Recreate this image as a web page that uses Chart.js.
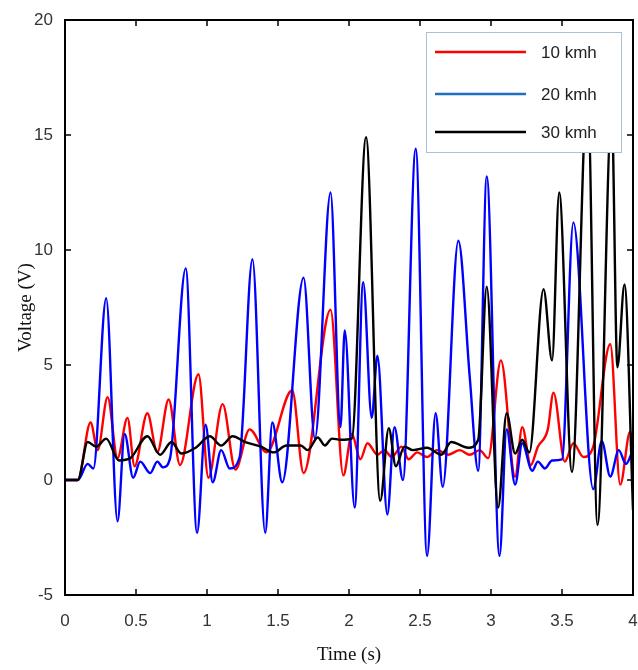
<!DOCTYPE html>
<html>
<head>
<meta charset="utf-8">
<title>Voltage vs time</title>
<style>
  body { margin: 0; background: #fff; }
  canvas { display: block; }
</style>
</head>
<body>
<canvas id="chart" width="638" height="670"></canvas>
<script src="https://cdn.jsdelivr.net/npm/chart.js"></script>
<script>
  // series labels
  const labels = ['10 kmh', '20 kmh', '30 kmh'];

  // 10 kmh (red)
  const time10 = [0, 0.09, 0.18, 0.23, 0.30, 0.37, 0.44, 0.49, 0.58, 0.65, 0.73, 0.81, 0.94, 1.01, 1.11, 1.20, 1.30, 1.42,
    1.60, 1.68, 1.87, 1.96, 2.02, 2.08, 2.13, 2.20, 2.25, 2.30, 2.37, 2.42, 2.48, 2.55, 2.62, 2.70, 2.78, 2.85, 2.92, 2.98,
    3.07, 3.17, 3.22, 3.28, 3.33, 3.40, 3.44, 3.52, 3.58, 3.65, 3.72, 3.84, 3.91, 3.98, 4.0];
  const volt10 = [0, 0, 2.5, 1.3, 3.6, 0.95, 2.7, 0.6, 2.9, 1.2, 3.5, 0.65, 4.6, 0.1, 3.3, 0.45, 2.2, 1.2,
    3.9, 0.3, 7.4, 0.2, 2.0, 0.9, 1.6, 1.1, 1.3, 1.0, 1.45, 0.9, 1.2, 1.0, 1.3, 1.1, 1.3, 1.1, 1.3, 0.95,
    5.2, 0.15, 2.3, 0.65, 1.45, 2.2, 3.8, 0.8, 1.6, 1.0, 1.45, 5.9, -0.2, 2.1, 1.6];

  // 20 kmh (blue)
  const time20 = [0, 0.09, 0.16, 0.20, 0.29, 0.37, 0.42, 0.48, 0.53, 0.60, 0.65, 0.69, 0.74, 0.85, 0.93, 0.99, 1.04, 1.10,
    1.16, 1.23, 1.32, 1.41, 1.46, 1.53, 1.68, 1.76, 1.87, 1.94, 1.97, 2.04, 2.10, 2.16, 2.20, 2.27, 2.32, 2.38, 2.47, 2.55,
    2.61, 2.66, 2.77, 2.85, 2.91, 2.97, 3.06, 3.11, 3.17, 3.22, 3.29, 3.33, 3.38, 3.43, 3.50, 3.58, 3.72, 3.78, 3.84, 3.90,
    3.95, 4.0];
  const volt20 = [0, 0, 0.7, 0.5, 7.9, -1.8, 2.0, 0.1, 0.8, 0.3, 0.8, 0.55, 0.95, 9.2, -2.3, 2.4, -0.1, 1.3,
    0.5, 1.0, 9.6, -2.3, 2.5, -0.1, 8.8, 1.8, 12.5, 2.3, 6.5, -1.2, 8.6, 2.7, 5.4, -1.5, 2.3, 0.0, 14.4, -3.3,
    2.9, -0.3, 10.4, 4.5, 0.4, 13.2, -3.3, 2.2, -0.2, 1.6, 0.4, 0.8, 0.5, 0.85, 0.9, 11.2, -0.4, 1.7, 0.15, 1.3,
    0.7, 1.3];

  // 30 kmh (black)
  const time30 = [0, 0.09, 0.16, 0.22, 0.29, 0.38, 0.46, 0.58, 0.67, 0.75, 0.82, 0.92, 1.02, 1.10, 1.18, 1.27, 1.38, 1.47,
    1.56, 1.66, 1.71, 1.78, 1.83, 1.88, 1.94, 2.02, 2.12, 2.22, 2.28, 2.33, 2.39, 2.45, 2.55, 2.65, 2.72, 2.84, 2.91, 2.97,
    3.05, 3.11, 3.17, 3.22, 3.27, 3.37, 3.43, 3.48, 3.57, 3.68, 3.75, 3.85, 3.89, 3.94, 4.0];
  const volt30 = [0, 0, 1.65, 1.45, 1.8, 0.85, 0.95, 1.9, 1.1, 1.65, 1.15, 1.4, 1.9, 1.5, 1.9, 1.65, 1.45, 1.2,
    1.5, 1.5, 1.3, 1.85, 1.5, 1.8, 1.75, 1.8, 14.9, -0.9, 2.25, 0.6, 1.45, 1.3, 1.4, 1.1, 1.65, 1.4, 1.75, 8.4,
    -1.2, 2.9, 1.15, 1.75, 1.2, 8.3, 5.2, 12.5, 0.35, 17.0, -1.95, 16.0, 4.9, 8.5, -1.3];

  const lineColors = ['#ff0000', '#0000ff', '#000000'];
  const legendColors = ['#ff0000', '#1f6fc0', '#000000'];

  function toPoints(times, values) {
    return times.map((t, i) => ({ x: t, y: values[i] }));
  }

  // box frame, inward tick marks and the legend box
  const framePlugin = {
    id: 'frame',
    afterDraw(chart) {
      const ctx = chart.ctx;
      const a = chart.chartArea;
      const xs = chart.scales.x;
      const ys = chart.scales.y;
      ctx.save();
      ctx.strokeStyle = '#000';
      ctx.lineWidth = 1.5;
      xs.ticks.forEach(t => {
        const px = xs.getPixelForValue(t.value);
        ctx.beginPath();
        ctx.moveTo(px, a.bottom); ctx.lineTo(px, a.bottom - 6);
        ctx.moveTo(px, a.top); ctx.lineTo(px, a.top + 6);
        ctx.stroke();
      });
      ys.ticks.forEach(t => {
        const py = ys.getPixelForValue(t.value);
        ctx.beginPath();
        ctx.moveTo(a.left, py); ctx.lineTo(a.left + 6, py);
        ctx.moveTo(a.right, py); ctx.lineTo(a.right - 6, py);
        ctx.stroke();
      });
      ctx.lineWidth = 2;
      ctx.strokeRect(a.left, a.top, a.right - a.left, a.bottom - a.top);

      // legend
      const bw = 195, bh = 120;
      const bx = a.right - 12 - bw, by = a.top + 12;
      ctx.fillStyle = '#fff';
      ctx.fillRect(bx, by, bw, bh);
      ctx.strokeStyle = '#a9c0d6';
      ctx.lineWidth = 1;
      ctx.strokeRect(bx + 0.5, by + 0.5, bw, bh);
      ctx.font = '17px "Liberation Sans", Arial, sans-serif';
      ctx.textBaseline = 'middle';
      const rowY = [20, 62, 100];
      labels.forEach((lab, i) => {
        const y = by + rowY[i];
        ctx.strokeStyle = legendColors[i];
        ctx.lineWidth = 2.5;
        ctx.beginPath();
        ctx.moveTo(bx + 9, y); ctx.lineTo(bx + 100, y);
        ctx.stroke();
        ctx.fillStyle = '#222';
        ctx.fillText(lab, bx + 115, y + 1);
      });
      ctx.restore();
    }
  };

  const datasets = [
    { label: labels[0], data: toPoints(time10, volt10), borderColor: lineColors[0], order: 3 },
    { label: labels[1], data: toPoints(time20, volt20), borderColor: lineColors[1], order: 2 },
    { label: labels[2], data: toPoints(time30, volt30), borderColor: lineColors[2], order: 1 }
  ].map(d => Object.assign(d, {
    borderWidth: 2.4,
    pointRadius: 0,
    fill: false,
    cubicInterpolationMode: 'monotone'
  }));

  const tickFont = { family: '"Liberation Sans", Arial, sans-serif', size: 17 };
  const titleFont = { family: '"Liberation Serif", "Times New Roman", serif', size: 19 };

  new Chart(document.getElementById('chart'), {
    type: 'line',
    data: { datasets },
    options: {
      responsive: false,
      animation: false,
      layout: { padding: { left: 0, right: 5, top: 20, bottom: 0 } },
      plugins: {
        legend: { display: false },
        tooltip: { enabled: false }
      },
      scales: {
        x: {
          type: 'linear',
          min: 0,
          max: 4,
          grid: { display: false },
          border: { display: false },
          ticks: { stepSize: 0.5, color: '#333', font: tickFont, padding: 8, maxRotation: 0,
            callback: v => String(v) },
          title: { display: true, text: 'Time (s)', color: '#111', font: titleFont, padding: { top: 0, bottom: 4 } },
          afterFit(scale) {
            scale.height = 75;
            scale.paddingLeft = 0;
            scale.paddingRight = 0;
          }
        },
        y: {
          min: -5,
          max: 20,
          grid: { display: false },
          border: { display: false },
          ticks: { stepSize: 5, color: '#333', font: tickFont, padding: 4 },
          title: { display: true, text: 'Voltage (V)', color: '#111', font: titleFont, padding: { top: 15, bottom: 0 } },
          afterFit(scale) { scale.width = 65; }
        }
      }
    },
    plugins: [framePlugin]
  });
</script>
</body>
</html>
